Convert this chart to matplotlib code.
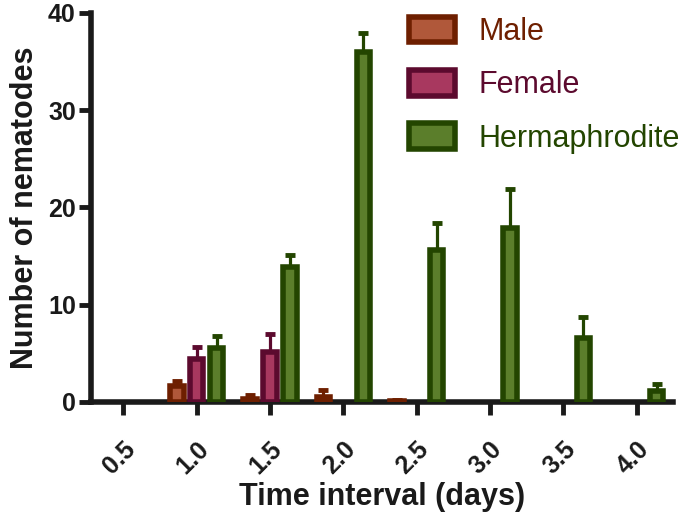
import numpy as np
import matplotlib
matplotlib.use('Agg')
import matplotlib.pyplot as plt
import matplotlib.transforms as mtransforms

plt.rcParams['font.family'] = ['Liberation Sans', 'DejaVu Sans']

# Data
intervals = [0.5, 1.0, 1.5, 2.0, 2.5, 3.0, 3.5, 4.0]
tick_labels = ['0.5', '1.0', '1.5', '2.0', '2.5', '3.0', '3.5', '4.0']

male = [0, 1.6, 0.3, 0.5, 0.1, 0, 0, 0]
male_err = [0, 0.6, 0.4, 0.7, 0.1, 0, 0, 0]
female = [0, 4.4, 5.1, 0, 0, 0, 0, 0]
female_err = [0, 1.2, 1.9, 0, 0, 0, 0, 0]
herm = [0, 5.5, 13.9, 36.0, 15.6, 17.9, 6.6, 1.1]
herm_err = [0, 1.3, 1.2, 1.9, 2.8, 4.0, 2.1, 0.7]

series = [
    ('Male', male, male_err, '#b0583a', '#6e1f00', -0.136),
    ('Female', female, female_err, '#a8385f', '#5c0a2e', 0.0),
    ('Hermaphrodite', herm, herm_err, '#5b7e2b', '#234500', 0.136),
]

fig = plt.figure(figsize=(6.85, 5.16), dpi=100)
ax = fig.add_axes([0.133, 0.221, 0.849, 0.754])

x = np.array(intervals)
for name, vals, err, face, edge, off in series:
    vals = np.array(vals)
    err = np.array(err)
    keep = vals > 0  # empty groups have no bar in the original
    ax.errorbar(x[keep] + off, vals[keep], yerr=[np.zeros(keep.sum()), err[keep]],
                fmt='none', ecolor=edge, elinewidth=2.3, capsize=3.6,
                capthick=3.5, zorder=2)
    ax.bar(x[keep] + off, vals[keep], width=0.092, color=face, edgecolor=edge,
           linewidth=4, label=name, zorder=3)

ax.set_xlim(0.28, 4.245)
ax.set_ylim(0, 40)
ax.set_xticks(intervals)
ax.set_xticklabels(tick_labels, rotation=45, ha='right', rotation_mode='anchor',
                   fontsize=18, fontweight='bold', color='#1a1a1a')
# nudge the rotated labels a little right, like the original
shift = mtransforms.ScaledTranslation(5 / 72, 0, fig.dpi_scale_trans)
for lab in ax.get_xticklabels():
    lab.set_transform(lab.get_transform() + shift)
ax.set_yticks([0, 10, 20, 30, 40])
ax.set_yticklabels(['0', '10', '20', '30', '40'], fontsize=18, fontweight='bold',
                   color='#1a1a1a')
ax.tick_params(axis='both', direction='out', length=9, width=3.5, color='#1a1a1a', pad=2)
ax.tick_params(axis='x', pad=16)

for s in ['top', 'right']:
    ax.spines[s].set_visible(False)
for s in ['left', 'bottom']:
    ax.spines[s].set_linewidth(4)
    ax.spines[s].set_color('#1a1a1a')

ax.set_xlabel('Time interval (days)', fontsize=22, fontweight='bold', labelpad=3,
              color='#1a1a1a')
ax.set_ylabel('Number of nematodes', fontsize=22, fontweight='bold', labelpad=6,
              color='#1a1a1a')

leg = ax.legend(loc='upper left', bbox_to_anchor=(0.50, 1.06), frameon=False,
                fontsize=22, handlelength=1.5, handleheight=0.9,
                labelspacing=0.75, handletextpad=0.75,
                labelcolor=['#6e1f00', '#5c0a2e', '#234500'])

fig.savefig('out.png', dpi=100)
